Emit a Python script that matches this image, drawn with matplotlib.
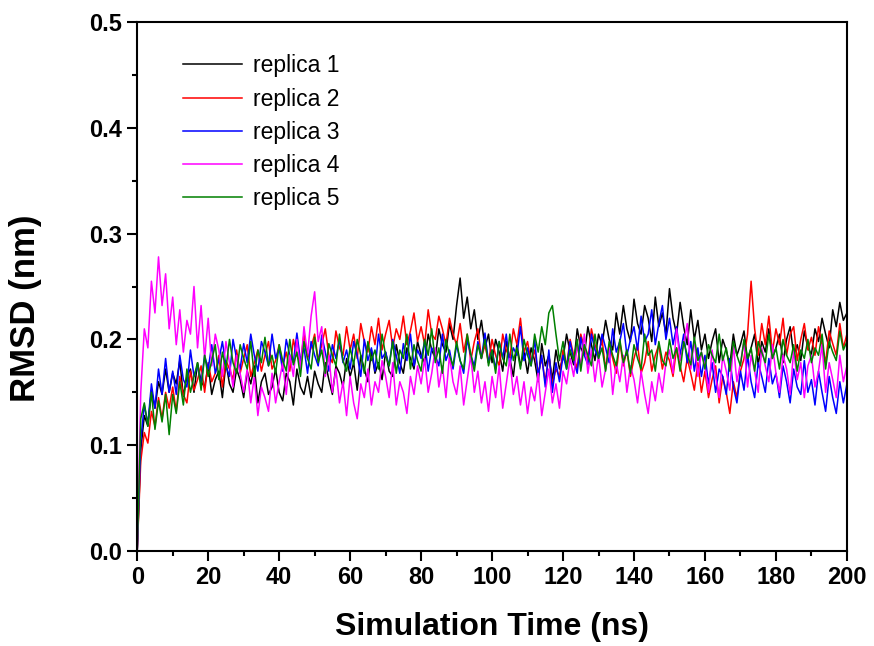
import numpy as np
from matplotlib import pyplot as plt
from matplotlib.ticker import MultipleLocator

# RMSD, one value per ns (units of 0.001 nm)
time_ns = np.arange(0, 201)

rep1 = [0, 95, 128, 118, 152, 135, 160, 148, 172, 150,
        168, 158, 180, 146, 165, 172, 150, 178, 160, 155,
        176, 148, 162, 170, 145, 178, 158, 150, 172, 162,
        145, 170, 158, 175, 140, 160, 168, 148, 155, 172,
        150, 142, 168, 160, 138, 172, 155, 148, 165, 145,
        170, 158, 150, 178, 162, 148, 175, 168, 155, 182,
        165, 178, 152, 185, 172, 160, 190, 168, 178, 162,
        188, 170, 165, 195, 178, 168, 192, 182, 172, 198,
        185, 178, 205, 190, 182, 210, 195, 188, 215, 200,
        232, 258, 220, 240, 210, 228, 200, 218, 192, 205,
        178, 200, 188, 170, 198, 182, 165, 195, 175, 188,
        168, 192, 180, 160, 196, 175, 185, 162, 190, 172,
        182, 205, 188, 176, 210, 192, 185, 212, 195, 180,
        205, 195, 218, 200, 190, 225, 205, 232, 210, 198,
        238, 215, 205, 232, 220, 198, 240, 212, 225, 205,
        248, 220, 205, 235, 212, 195, 228, 200, 218, 190,
        205, 182, 198, 210, 178, 200, 190, 175, 205, 185,
        195, 208, 180, 192, 205, 176, 198, 188, 210, 182,
        192, 205, 178, 200, 212, 185, 195, 180, 208, 192,
        186, 210, 198, 220, 205, 192, 228, 212, 235, 218,
        225]

rep2 = [0, 85, 112, 102, 132, 118, 145, 125, 150, 135,
        155, 132, 165, 148, 140, 170, 152, 162, 175, 150,
        178, 160, 168, 185, 155, 180, 172, 162, 190, 168,
        182, 195, 165, 178, 190, 170, 185, 198, 172, 180,
        195, 175, 188, 170, 200, 185, 178, 205, 182, 192,
        205, 180, 195, 210, 185, 178, 208, 192, 185, 212,
        190, 205, 182, 215, 198, 188, 212, 195, 220, 190,
        205, 218, 192, 210, 200, 222, 195, 208, 225, 198,
        212, 195, 228, 205, 200, 222, 210, 195, 220, 205,
        195, 215, 188, 205, 180, 198, 210, 182, 195, 178,
        200, 185, 175, 205, 190, 182, 210, 195, 220, 188,
        198, 178, 190, 168, 182, 160, 185, 158, 172, 165,
        190, 175, 200, 185, 172, 205, 192, 180, 210, 195,
        185, 200, 172, 195, 182, 168, 198, 175, 190, 165,
        182, 195, 168, 178, 198, 170, 185, 195, 172, 188,
        180, 165, 192, 175, 160, 182, 168, 152, 178, 150,
        170, 145, 162, 175, 140, 165, 150, 130, 160, 145,
        170, 182, 205, 255, 210, 185, 215, 195, 222, 188,
        210, 195, 220, 185, 205, 212, 180, 200, 215, 190,
        202, 185, 212, 195, 178, 208, 196, 185, 215, 192,
        205]

rep3 = [0, 105, 138, 120, 158, 135, 172, 148, 182, 150,
        170, 148, 185, 162, 155, 190, 165, 175, 158, 185,
        172, 195, 168, 180, 198, 175, 165, 200, 182, 172,
        196, 178, 205, 185, 170, 198, 188, 175, 205, 182,
        192, 170, 200, 185, 178, 206, 180, 192, 168, 198,
        185, 175, 204, 188, 170, 195, 182, 200, 178, 190,
        172, 198, 185, 165, 200, 180, 192, 170, 205, 182,
        188, 175, 200, 185, 168, 196, 180, 205, 175, 190,
        182, 198, 170, 192, 185, 175, 205, 180, 190, 172,
        195, 180, 168, 200, 185, 175, 198, 182, 206, 178,
        190, 172, 198, 182, 205, 176, 192, 185, 212, 180,
        192, 175, 200, 165, 185, 155, 190, 150, 178, 160,
        185, 172, 198, 180, 168, 202, 185, 176, 205, 190,
        182, 205, 192, 178, 210, 188, 198, 215, 185, 200,
        212, 190, 222, 198, 205, 228, 195, 215, 232, 200,
        220, 195, 212, 185, 205, 178, 198, 170, 192, 165,
        185, 158, 178, 150, 172, 165, 148, 182, 155, 140,
        170, 152, 185, 160, 145, 178, 165, 150, 182, 158,
        168, 145, 175, 160, 140, 172, 155, 148, 180, 150,
        162, 138, 170, 150, 132, 165, 145, 130, 160, 140,
        158]

rep4 = [0, 150, 210, 192, 255, 225, 278, 232, 262, 210,
        240, 195, 228, 188, 218, 205, 250, 192, 232, 182,
        220, 175, 205, 190, 165, 198, 178, 155, 185, 168,
        150, 172, 140, 165, 128, 155, 145, 132, 168, 140,
        160, 178, 148, 185, 165, 200, 172, 212, 185, 222,
        245, 198, 212, 165, 185, 150, 172, 140, 160, 128,
        165, 140, 125, 158, 145, 172, 138, 160, 150, 180,
        165, 145, 178, 138, 160, 150, 130, 165, 148, 175,
        158, 182, 150, 168, 192, 155, 175, 145, 185, 160,
        148, 175, 138, 162, 185, 150, 170, 140, 160, 132,
        165, 145, 175, 135, 158, 182, 148, 165, 138, 160,
        130, 155, 142, 168, 128, 150, 172, 140, 158, 135,
        170, 158, 182, 165, 195, 175, 205, 168, 190, 160,
        185, 155, 172, 192, 148, 178, 160, 185, 150, 175,
        162, 140, 170, 148, 130, 160, 142, 168, 150, 178,
        190, 168, 210, 180, 195, 215, 172, 200, 165, 188,
        175, 150, 190, 165, 145, 185, 170, 152, 195, 160,
        178, 198, 155, 185, 170, 150, 192, 175, 160, 195,
        168, 150, 185, 172, 148, 190, 162, 178, 145, 175,
        185, 155, 170, 195, 150, 178, 162, 145, 185, 160,
        175]

rep5 = [0, 125, 140, 118, 150, 115, 142, 122, 148, 110,
        148, 130, 160, 138, 172, 150, 165, 178, 152, 185,
        165, 180, 195, 162, 188, 172, 200, 178, 168, 195,
        182, 172, 198, 165, 190, 178, 202, 175, 185, 168,
        195, 180, 170, 200, 176, 188, 165, 198, 182, 172,
        202, 178, 190, 168, 196, 185, 175, 205, 180, 170,
        192, 176, 200, 185, 168, 198, 180, 190, 172, 205,
        185, 175, 198, 168, 190, 182, 205, 172, 195, 180,
        170, 200, 185, 210, 178, 192, 168, 200, 185, 175,
        198, 180, 172, 205, 186, 170, 195, 182, 200, 175,
        190, 168, 198, 182, 175, 205, 180, 192, 172, 200,
        185, 175, 205, 188, 212, 195, 225, 232, 205, 180,
        198, 172, 190, 180, 200, 170, 195, 185, 175, 205,
        182, 192, 170, 198, 185, 175, 200, 178, 190, 168,
        195, 182, 172, 205, 185, 190, 170, 198, 180, 175,
        200, 182, 192, 170, 198, 185, 176, 202, 180, 188,
        172, 195, 185, 178, 205, 180, 192, 170, 198, 185,
        175, 200, 182, 192, 170, 198, 188, 178, 205, 182,
        192, 172, 200, 185, 178, 195, 170, 190, 182, 200,
        178, 192, 185, 205, 172, 198, 188, 180, 208, 190,
        198]

series = [rep1, rep2, rep3, rep4, rep5]
labels = ["replica 1", "replica 2", "replica 3", "replica 4", "replica 5"]
colors = ["black", "#ff0000", "#0000ff", "#ff00ff", "#008000"]

fig = plt.figure(figsize=(8.74, 6.46), dpi=100)
ax = fig.add_axes([0.157, 0.147, 0.812, 0.819])

for vals, lab, col in zip(series, labels, colors):
    ax.plot(time_ns, np.array(vals) / 1000, color=col, lw=1.1, label=lab)

ax.set_xlim(0, 200)
ax.set_ylim(0, 0.5)
ax.xaxis.set_major_locator(MultipleLocator(20))
ax.xaxis.set_minor_locator(MultipleLocator(10))
ax.yaxis.set_major_locator(MultipleLocator(0.1))
ax.yaxis.set_minor_locator(MultipleLocator(0.05))
ax.yaxis.set_major_formatter(plt.FormatStrFormatter("%.1f"))

ax.tick_params(which="both", direction="out", width=1.5, top=False, right=False)
ax.tick_params(which="major", length=7, pad=4)
ax.tick_params(which="minor", length=3.5)
for sp in ax.spines.values():
    sp.set_linewidth(1.5)

for t in ax.get_xticklabels() + ax.get_yticklabels():
    t.set_family("Liberation Sans")
    t.set_fontweight("bold")
    t.set_fontsize(17)

ax.set_xlabel("Simulation Time (ns)", family="Liberation Sans", fontweight="bold",
              fontsize=23, labelpad=16)
ax.set_ylabel("RMSD (nm)", family="Liberation Sans", fontweight="bold", fontsize=25)
# the original label sits a little below the middle of the axis
ax.yaxis.set_label_coords(-0.134, 0.459)

leg = ax.legend(loc="upper left", bbox_to_anchor=(0.035, 0.978), frameon=False,
                handlelength=2.58, handletextpad=0.48, labelspacing=0.45,
                prop={"family": "Liberation Sans", "size": 16.5})

fig.savefig("out.png", dpi=100)
